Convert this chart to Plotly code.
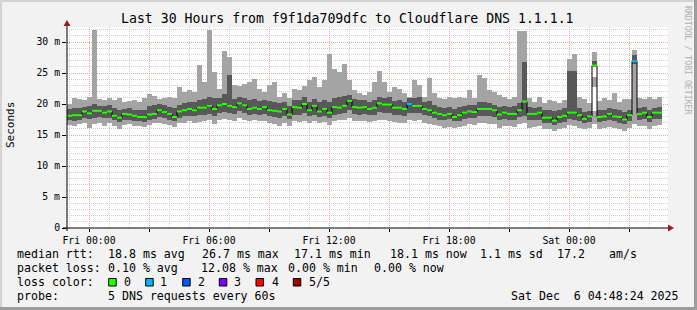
import plotly.graph_objects as go

# ---------------- data (ms) ----------------
start_h = -1.1          # hours relative to Fri 00:00
step_h = 0.25           # 15 minute steps

max_ms = [20.0, 20.9, 20.8, 20.6, 21.2, 32.0, 20.8, 20.7, 20.9, 20.6, 20.9, 20.3, 20.5, 20.6, 20.4, 20.9, 21.6, 21.3, 20.8, 21.0,
          21.1, 21.0, 22.7, 21.9, 22.2, 21.9, 26.3, 23.6, 32.0, 25.2, 22.5, 28.5, 27.6, 23.0, 22.9, 23.3, 23.5, 24.1, 22.5, 21.9,
          23.1, 23.6, 21.1, 21.7, 21.0, 22.5, 22.2, 22.9, 23.8, 24.4, 22.7, 23.8, 28.1, 25.7, 25.2, 26.4, 23.8, 22.2, 21.7, 21.4,
          21.9, 23.5, 25.3, 23.5, 21.9, 22.7, 22.5, 21.7, 21.1, 23.8, 23.0, 21.1, 24.2, 21.7, 21.0, 20.8, 21.1, 20.9, 21.1, 20.9,
          22.3, 21.0, 24.6, 24.2, 22.2, 21.9, 21.4, 21.1, 20.8, 21.1, 31.7, 31.7, 21.0, 20.3, 21.1, 20.1, 20.6, 20.5, 20.1, 20.6,
          27.2, 28.0, 21.1, 20.8, 20.1, 28.4, 20.5, 21.0, 20.6, 21.7, 20.3, 20.8, 20.8, 28.7, 21.0, 20.8, 21.1, 20.8, 21.1]

q3_ms = [19.2, 19.4, 19.3, 19.5, 19.6, 20.0, 19.7, 19.6, 19.8, 19.3, 19.0, 19.2, 19.3, 19.1, 19.0, 19.0, 19.6, 19.8, 20.0, 19.9,
         19.5, 19.4, 19.9, 20.2, 20.4, 20.3, 20.6, 20.8, 21.2, 20.9, 21.0, 21.6, 24.7, 20.8, 21.1, 21.0, 20.6, 20.8, 20.5, 20.7,
         20.5, 20.3, 20.2, 20.4, 19.6, 20.6, 20.7, 21.1, 20.4, 20.8, 20.3, 20.6, 20.4, 21.0, 21.1, 21.3, 21.5, 20.8, 20.6, 20.7,
         20.4, 20.6, 21.2, 21.0, 21.1, 20.5, 20.6, 20.3, 20.9, 21.0, 21.2, 20.4, 20.5, 19.8, 19.5, 19.4, 19.5, 19.2, 19.5, 19.6,
         19.9, 19.8, 20.3, 20.4, 20.2, 19.9, 19.5, 19.6, 19.5, 19.6, 20.1, 26.8, 19.5, 19.4, 19.5, 19.0, 19.1, 18.8, 19.0, 19.3,
         25.4, 25.4, 19.3, 18.7, 18.9, 27.0, 19.0, 19.1, 19.3, 19.2, 19.0, 18.7, 19.1, 27.9, 19.3, 19.5, 19.1, 19.4, 19.5]

median_ms = [18.1, 18.2, 18.2, 18.8, 18.5, 18.9, 18.9, 18.6, 18.8, 18.1, 17.8, 18.4, 18.3, 18.1, 17.9, 17.9, 18.3, 18.4, 19.0, 18.7,
             18.4, 17.9, 18.8, 19.0, 19.2, 19.0, 19.4, 19.4, 19.7, 19.2, 19.8, 20.0, 19.7, 19.5, 20.1, 19.8, 19.2, 19.4, 19.2, 19.5,
             19.0, 18.9, 18.8, 19.2, 18.3, 19.5, 19.4, 20.0, 19.0, 19.7, 18.8, 19.2, 18.6, 19.5, 19.4, 19.7, 20.5, 19.5, 19.4, 19.5,
             19.2, 19.4, 20.1, 19.9, 19.9, 19.4, 19.4, 19.2, 20.0, 19.7, 19.7, 19.2, 19.0, 18.6, 18.4, 18.2, 18.4, 17.9, 18.2, 18.6,
             18.8, 18.7, 19.2, 19.2, 19.2, 19.0, 18.3, 18.6, 18.4, 18.4, 19.0, 20.4, 18.4, 18.4, 18.6, 17.8, 17.8, 17.3, 17.9, 18.1,
             18.6, 18.6, 18.2, 17.6, 18.0, 26.2, 17.9, 18.0, 18.4, 18.0, 17.9, 17.5, 18.2, 26.9, 18.4, 18.6, 17.9, 18.6, 18.6]

q1_ms = [17.4, 17.3, 17.5, 17.8, 17.6, 17.8, 17.9, 17.7, 17.8, 17.4, 17.1, 17.5, 17.4, 17.3, 17.2, 17.1, 17.5, 17.6, 17.9, 17.8,
         17.5, 17.2, 17.8, 18.0, 18.1, 18.0, 18.2, 18.3, 18.4, 18.0, 18.6, 18.7, 18.5, 18.4, 18.8, 18.6, 18.3, 18.4, 18.2, 18.4,
         18.0, 17.9, 17.8, 18.1, 17.6, 18.3, 18.2, 18.5, 18.0, 18.3, 17.9, 18.1, 17.7, 18.3, 18.4, 18.5, 19.0, 18.4, 18.3, 18.4,
         18.2, 18.3, 18.7, 18.6, 18.5, 18.3, 18.2, 18.1, 18.6, 18.6, 18.5, 18.2, 18.0, 17.7, 17.5, 17.4, 17.6, 17.2, 17.3, 17.6,
         17.8, 17.7, 18.0, 18.1, 18.0, 17.9, 17.4, 17.6, 17.5, 17.4, 17.9, 18.1, 17.5, 17.4, 17.5, 17.0, 17.0, 16.6, 17.0, 17.1,
         17.6, 17.5, 17.3, 16.9, 17.1, 26.0, 17.1, 17.2, 17.4, 17.2, 17.0, 16.8, 17.2, 26.4, 17.4, 17.6, 17.1, 17.6, 17.6]

min_ms = [16.6, 16.4, 16.8, 16.9, 16.2, 16.8, 16.9, 16.5, 16.9, 16.4, 16.0, 16.6, 16.8, 16.5, 16.4, 16.3, 16.6, 16.9, 17.0, 16.8,
          16.6, 16.3, 16.9, 17.0, 17.2, 16.9, 17.1, 17.3, 17.5, 16.8, 17.5, 17.6, 17.4, 17.3, 17.7, 17.5, 17.2, 17.4, 17.2, 17.3,
          16.9, 16.8, 16.5, 17.0, 16.4, 17.2, 17.1, 17.3, 16.9, 17.3, 17.0, 17.1, 16.6, 17.2, 17.4, 17.5, 17.8, 17.3, 17.2, 17.3,
          17.1, 17.2, 17.5, 17.4, 17.3, 17.1, 17.0, 16.9, 17.4, 17.3, 17.4, 17.0, 16.8, 16.6, 16.4, 16.2, 16.3, 16.2, 16.3, 16.5,
          16.7, 16.6, 16.9, 17.0, 16.8, 16.7, 16.2, 16.4, 16.4, 16.3, 16.8, 16.9, 16.2, 16.3, 16.4, 15.9, 16.0, 15.7, 16.0, 16.1,
          16.6, 16.4, 16.2, 15.9, 16.1, 16.8, 16.0, 16.2, 16.3, 16.2, 15.9, 15.7, 16.1, 16.8, 16.4, 16.5, 16.0, 16.5, 16.6]

# empty (unfilled) stretches inside a step's smoke: (step, low ms, high ms)
smoke_gaps = [(105, 18.9, 22.7), (105, 24.4, 26.0)]

# lost pings (of 5) per step
loss = [0] * 119
loss[68] = 1
loss[113] = 1

loss_labels = ["0", "1", "2", "3", "4", "5/5"]
loss_colors = ["#26ff00", "#00b8ff", "#0059ff", "#7e00ff", "#ff0000", "#a10000"]

x_tick_vals = [0, 3, 6, 9, 12, 15, 18, 21, 24, 27]
x_tick_text = ["Fri 00:00", "", "Fri 06:00", "", "Fri 12:00", "", "Fri 18:00", "", "Sat 00:00", ""]
y_tick_vals = [0, 5, 10, 15, 20, 25, 30]
y_tick_text = ["0", "5 m", "10 m", "15 m", "20 m", "25 m", "30 m"]

title = "Last 30 Hours from f9f1da709dfc to Cloudflare DNS 1.1.1.1"
legend_rtt = ["median rtt:", "18.8 ms avg", "26.7 ms max", "17.1 ms min", "18.1 ms now", "1.1 ms sd", "17.2", "am/s"]
legend_loss = ["packet loss:", "0.10 % avg", "12.08 % max", "0.00 % min", "0.00 % now"]
probe_text = ["probe:", "5 DNS requests every 60s"]
stamp = "Sat Dec  6 04:48:24 2025"

# ---------------- layout geometry (px) ----------------
W, H = 697, 310
PL, PR, PT, PB = 67, 668, 27, 228
PX_PER_H = 20.0
PX_PER_MS = 6.2
x_range = [start_h, start_h + (PR - PL) / PX_PER_H]
y_range = [0, (PB - PT) / PX_PER_MS]

def px(x):
    return (x - PL) / (PR - PL)

def py(y):
    return (PB - y) / (PB - PT)

MONO = "DejaVu Sans Mono"
LIGHT = "#a4a4a4"
DARK = "#585858"

n = len(median_ms)
x_left = [start_h + i * step_h for i in range(n)]
x_mid = [v + step_h / 2 for v in x_left]

fig = go.Figure()

# smoke: min..max (light), q1..q3 (dark)
fig.add_trace(go.Bar(x=x_mid, y=[a - b for a, b in zip(max_ms, min_ms)], base=min_ms,
                     width=step_h, marker=dict(color=LIGHT, line=dict(width=0)), hoverinfo="skip"))
fig.add_trace(go.Bar(x=[x_mid[g[0]] for g in smoke_gaps], y=[g[2] - g[1] for g in smoke_gaps],
                     base=[g[1] for g in smoke_gaps], width=step_h,
                     marker=dict(color="white", line=dict(width=0)), hoverinfo="skip"))
fig.add_trace(go.Bar(x=x_mid, y=[a - b for a, b in zip(q3_ms, q1_ms)], base=q1_ms,
                     width=step_h, marker=dict(color=DARK, line=dict(width=0)), hoverinfo="skip"))

# median black step line
fig.add_trace(go.Scatter(x=x_left + [x_left[-1] + step_h], y=median_ms + [median_ms[-1]],
                         mode="lines", line=dict(color="black", width=1, shape="hv"), hoverinfo="skip"))

# loss-coloured median segments
for lvl, col in enumerate(loss_colors):
    xs, ys = [], []
    for i in range(n):
        if loss[i] == lvl:
            xs += [x_left[i], x_left[i] + step_h, None]
            ys += [median_ms[i], median_ms[i], None]
    if xs:
        fig.add_trace(go.Scatter(x=xs, y=ys, mode="lines", line=dict(color=col, width=2),
                                 hoverinfo="skip"))

grid_minor = "#cfcfcf"
grid_major = "#e9a6a6"

fig.update_layout(
    width=W, height=H,
    margin=dict(l=PL, r=W - PR, t=PT, b=H - PB, pad=0),
    paper_bgcolor="#f2f2f2", plot_bgcolor="white",
    showlegend=False, barmode="overlay", bargap=0,
    font=dict(family=MONO, color="black"),
    xaxis=dict(range=x_range, tickmode="array", tickvals=x_tick_vals, ticktext=x_tick_text,
               showgrid=True, gridcolor=grid_major, griddash="1px,1px", gridwidth=1,
               minor=dict(dtick=1, tick0=0, showgrid=True, gridcolor=grid_minor, griddash="1px,1px", ticks=""),
               zeroline=False, showline=False, ticks="outside", ticklen=3, tickcolor="black",
               tickfont=dict(family=MONO, size=9.8, color="black"), fixedrange=True),
    yaxis=dict(range=y_range, tickmode="array", tickvals=y_tick_vals, ticktext=y_tick_text,
               showgrid=True, gridcolor=grid_major, griddash="1px,1px", gridwidth=1,
               minor=dict(dtick=1, tick0=0, showgrid=True, gridcolor=grid_minor, griddash="1px,1px", ticks=""),
               zeroline=False, showline=False, ticks="outside", ticklen=4, tickcolor="black",
               tickfont=dict(family=MONO, size=9.8, color="black"), fixedrange=True),
)

shapes = []
# axes with arrows
shapes.append(dict(type="line", xref="paper", yref="paper", x0=px(63), x1=px(670), y0=py(228), y1=py(228),
                   line=dict(color="black", width=1)))
shapes.append(dict(type="line", xref="paper", yref="paper", x0=px(67), x1=px(67), y0=py(231), y1=py(23),
                   line=dict(color="black", width=1)))
shapes.append(dict(type="path", xref="paper", yref="paper",
                   path=f"M {px(668)} {py(224.5)} L {px(674)} {py(228)} L {px(668)} {py(231.5)} Z",
                   fillcolor="#a01818", line=dict(width=0)))
shapes.append(dict(type="path", xref="paper", yref="paper",
                   path=f"M {px(63.5)} {py(26)} L {px(67)} {py(20)} L {px(70.5)} {py(26)} Z",
                   fillcolor="#a01818", line=dict(width=0)))
# frame
shapes.append(dict(type="rect", xref="paper", yref="paper", x0=px(0), x1=px(697), y0=py(0), y1=py(2),
                   fillcolor="#d4d4d4", line=dict(width=0)))
shapes.append(dict(type="rect", xref="paper", yref="paper", x0=px(0), x1=px(2), y0=py(0), y1=py(310),
                   fillcolor="#d4d4d4", line=dict(width=0)))
shapes.append(dict(type="rect", xref="paper", yref="paper", x0=px(0), x1=px(697), y0=py(307), y1=py(310),
                   fillcolor="#9c9c9c", line=dict(width=0)))
shapes.append(dict(type="rect", xref="paper", yref="paper", x0=px(694), x1=px(697), y0=py(0), y1=py(310),
                   fillcolor="#9c9c9c", line=dict(width=0)))
# loss colour boxes
box_x = [108.7, 145.7, 182.7, 219.3, 256.0, 293.3]
for bx, col in zip(box_x, loss_colors):
    shapes.append(dict(type="rect", xref="paper", yref="paper", x0=px(bx), x1=px(bx + 7.5),
                       y0=py(278.5), y1=py(286), fillcolor=col, line=dict(color="black", width=1)))
fig.update_layout(shapes=shapes)

ann = []
def text(x, y, s, size=11.6, anchor="left", color="black", angle=0):
    ann.append(dict(x=px(x), y=py(y), xref="paper", yref="paper", text=s, showarrow=False,
                    xanchor=anchor, yanchor="middle", textangle=angle, borderpad=0,
                    font=dict(family=MONO, size=size, color=color)))

text(347, 19, title, size=13.2, anchor="center")
text(10, 125, "Seconds", size=11.0, anchor="center", angle=-90)
text(688, 60, "RRDTOOL / TOBI OETIKER", size=8.2, anchor="center", color="#b0b0b0", angle=90)

rtt_x = [16, 107.3, 200.7, 293.3, 389.3, 479.3, 556.0, 607.7]
for xx, s in zip(rtt_x, legend_rtt):
    text(xx, 254.3, s)
loss_x = [16, 107.3, 200.0, 286.7, 372.7]
for xx, s in zip(loss_x, legend_loss):
    text(xx, 268.3, s)
text(16, 282.3, "loss color:")
lab_x = [123.3, 159.3, 196.7, 233.3, 270.7, 307.7]
for xx, s in zip(lab_x, loss_labels):
    text(xx, 282.3, s)
text(16, 296.2, probe_text[0])
text(107.3, 296.2, probe_text[1])
text(680, 296.2, stamp, anchor="right")

fig.update_layout(annotations=ann)
fig.write_html("out.html")
